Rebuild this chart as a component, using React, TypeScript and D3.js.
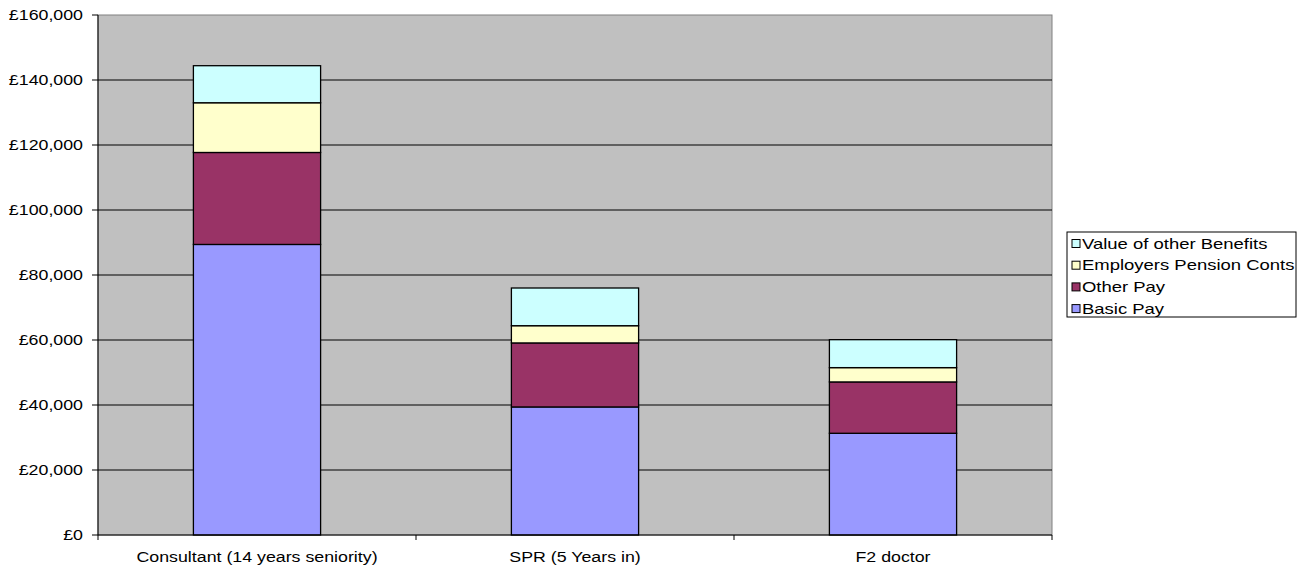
import * as d3 from "d3";

const categories = ["Consultant (14 years seniority)", "SPR (5 Years in)", "F2 doctor"];
const seriesNames = ["Basic Pay", "Other Pay", "Employers Pension Conts", "Value of other Benefits"];
const basicPay = [89400, 39400, 31300];
const otherPay = [28300, 19700, 15800];
const pensionConts = [15300, 5300, 4400];
const otherBenefits = [11400, 11600, 8600];
const yTicks = [0, 20000, 40000, 60000, 80000, 100000, 120000, 140000, 160000];

const colors: { [k: string]: string } = {
  "Basic Pay": "#9999FF",
  "Other Pay": "#993366",
  "Employers Pension Conts": "#FFFFCC",
  "Value of other Benefits": "#CCFFFF",
};

const W = 1306;
const H = 568;
const left = 98;
const right = 1052;
const top = 15;
const bottom = 535;
const SX = 1.27; // the picture is stretched sideways
const SXL = 1.32;
const font = "'Liberation Sans', Arial, sans-serif";

export default function App() {
  const rows = categories.map((c, i) => ({
    cat: c,
    "Basic Pay": basicPay[i],
    "Other Pay": otherPay[i],
    "Employers Pension Conts": pensionConts[i],
    "Value of other Benefits": otherBenefits[i],
  }));
  const stacked = d3.stack<any>().keys(seriesNames)(rows);

  const x = d3.scaleBand().domain(categories).range([left, right]).paddingInner(0.6).paddingOuter(0.3);
  const y = d3.scaleLinear().domain([0, 160000]).range([bottom, top]);
  const step = x.step();
  const fmt = (v: number) => "£" + d3.format(",")(v);
  const legendOrder = [...seriesNames].reverse();

  return (
    <svg width={W} height={H} style={{ position: "absolute", left: 0, top: 0 }}>
      <rect x={left} y={top} width={right - left} height={bottom - top} fill="#C0C0C0" stroke="#808080" />
      {yTicks.map((t) => (
        <g key={t}>
          {t > 0 && t < 160000 && (
            <line x1={left} x2={right} y1={y(t)} y2={y(t)} stroke="#000" strokeWidth={1} />
          )}
          <line x1={left - 6} x2={left} y1={y(t)} y2={y(t)} stroke="#000" />
          <text
            transform={`translate(${left - 15},${y(t) + 5}) scale(${SX},1)`}
            textAnchor="end"
            fontFamily={font}
            fontSize={14}
          >
            {fmt(t)}
          </text>
        </g>
      ))}
      {stacked.map((s) =>
        s.map((d, i) => (
          <rect
            key={s.key + i}
            x={x(categories[i])}
            y={y(d[1])}
            width={x.bandwidth()}
            height={y(d[0]) - y(d[1])}
            fill={colors[s.key]}
            stroke="#000"
            strokeWidth={1.3}
          />
        ))
      )}
      <line x1={left} x2={left} y1={top} y2={bottom} stroke="#000" />
      <line x1={left} x2={right} y1={bottom} y2={bottom} stroke="#000" />
      {d3.range(categories.length + 1).map((i) => (
        <line key={i} x1={left + i * step} x2={left + i * step} y1={bottom} y2={bottom + 5} stroke="#000" />
      ))}
      {categories.map((c) => (
        <text
          key={c}
          transform={`translate(${(x(c) as number) + x.bandwidth() / 2},${561.5}) scale(${SX},1)`}
          textAnchor="middle"
          fontFamily={font}
          fontSize={14}
        >
          {c}
        </text>
      ))}
      <rect x={1067} y={232} width={229} height={85} fill="#fff" stroke="#000" />
      {legendOrder.map((name, i) => {
        const cy = 243.5 + i * 21.7;
        return (
          <g key={name}>
            <rect x={1072} y={cy - 4} width={8} height={8} fill={colors[name]} stroke="#000" />
            <text
              transform={`translate(1082,${cy + 5}) scale(${SXL},1)`}
              fontFamily={font}
              fontSize={14}
            >
              {name}
            </text>
          </g>
        );
      })}
    </svg>
  );
}
